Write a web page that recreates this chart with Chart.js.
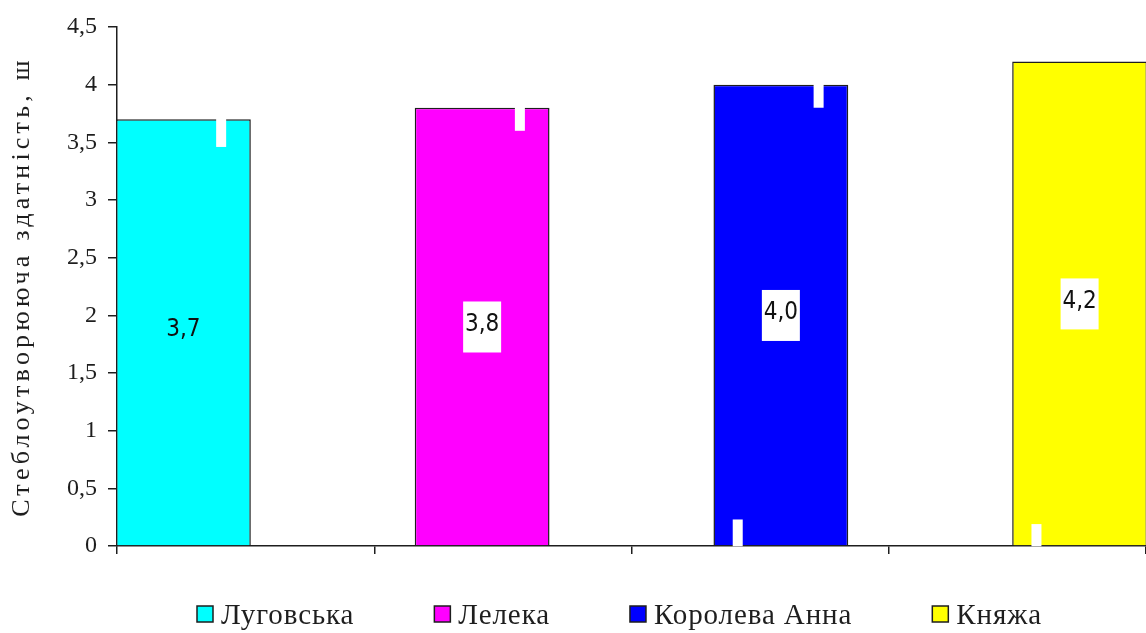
<!DOCTYPE html>
<html>
<head>
<meta charset="utf-8">
<script src="https://cdn.jsdelivr.net/npm/chart.js@4"></script>
<style>
  html, body { margin: 0; padding: 0; background: #fff; }
  #wrap { width: 1146px; height: 633px; position: relative; }
</style>
</head>
<body>
<div id="wrap"><canvas id="chart"></canvas></div>
<script>
const categories = ['Луговська', 'Лелека', 'Королева Анна', 'Княжа'];
const values = [3.7, 3.8, 4.0, 4.2];
const colors = ['#00ffff', '#ff00ff', '#0000ff', '#ffff00'];
const boxedLabel = [false, true, true, true];
// white notches cut into the bars, length in axis units (from top / from base)
const notchTop = [0.24, 0.2, 0.2, null];
const notchBase = [null, null, 0.23, 0.19];
const yTicks = [0, 0.5, 1, 1.5, 2, 2.5, 3, 3.5, 4, 4.5];
const yTitle = 'Стеблоутворююча здатність, ш';

const comma = v => String(v).replace('.', ',');
const serif = '"Liberation Serif", "Times New Roman", serif';
const ink = '#1e1e1e';

const datasets = categories.map((name, i) => ({
    label: name,
    data: values.map((v, j) => (j === i ? v : null)),
    backgroundColor: colors[i],
    borderColor: ink,
    borderWidth: 1.5,
    categoryPercentage: 0.645,
    barPercentage: 3.25
}));

// white notches
const notchPlugin = {
    id: 'notches',
    afterDatasetsDraw(chart) {
        const ctx = chart.ctx;
        const y = chart.scales.y;
        ctx.save();
        ctx.fillStyle = '#fff';
        chart.data.datasets.forEach((ds, i) => {
            const bar = chart.getDatasetMeta(i).data[i];
            if (!bar) return;
            const left = bar.x - bar.width / 2;
            if (notchTop[i] != null) {
                const x = left + bar.width * 0.78;
                const y2 = y.getPixelForValue(values[i] - notchTop[i]);
                ctx.fillRect(x - 5, bar.y - 1, 10, y2 - bar.y + 1);
            }
            if (notchBase[i] != null) {
                const x = left + bar.width * 0.18;
                const y1 = y.getPixelForValue(notchBase[i]);
                ctx.fillRect(x - 5, y1, 10, bar.base - y1 + 1);
            }
        });
        ctx.restore();
    }
};

// value labels in the middle of each bar
const valueLabels = {
    id: 'valueLabels',
    afterDatasetsDraw(chart) {
        const ctx = chart.ctx;
        ctx.save();
        ctx.font = '24px "Liberation Sans Narrow", "DejaVu Sans Condensed", sans-serif';
        ctx.textAlign = 'center';
        ctx.textBaseline = 'middle';
        chart.data.datasets.forEach((ds, i) => {
            const bar = chart.getDatasetMeta(i).data[i];
            if (!bar) return;
            const cy = (bar.y + bar.base) / 2;
            if (boxedLabel[i]) {
                ctx.fillStyle = '#fff';
                ctx.fillRect(bar.x - 19, cy - 25, 38, 51);
            }
            ctx.fillStyle = '#111';
            ctx.fillText(values[i].toFixed(1).replace('.', ','), bar.x, cy - 2);
        });
        ctx.restore();
    }
};

// rotated y title and the bottom legend
const decor = {
    id: 'decor',
    afterDraw(chart) {
        const ctx = chart.ctx;
        const area = chart.chartArea;
        ctx.save();
        ctx.fillStyle = ink;
        ctx.translate(29, (area.top + area.bottom) / 2);
        ctx.rotate(-Math.PI / 2);
        ctx.font = '26px ' + serif;
        ctx.letterSpacing = '4.2px';
        ctx.textAlign = 'center';
        ctx.textBaseline = 'alphabetic';
        ctx.fillText(yTitle, 0, 0);
        ctx.restore();

        ctx.save();
        ctx.font = '29px ' + serif;
        ctx.letterSpacing = '0.9px';
        ctx.textBaseline = 'alphabetic';
        let x = area.left + 80;
        const yMid = 614;
        chart.data.datasets.forEach(ds => {
            ctx.fillStyle = ds.backgroundColor;
            ctx.fillRect(x, yMid - 8, 16, 16);
            ctx.strokeStyle = ink;
            ctx.lineWidth = 1.5;
            ctx.strokeRect(x, yMid - 8, 16, 16);
            ctx.fillStyle = ink;
            ctx.fillText(ds.label, x + 24, yMid + 10);
            x += 24 + ctx.measureText(ds.label).width + 80;
        });
        ctx.restore();
    }
};

new Chart(document.getElementById('chart'), {
    type: 'bar',
    data: { labels: categories, datasets: datasets },
    options: {
        responsive: true,
        maintainAspectRatio: false,
        animation: false,
        devicePixelRatio: 1,
        layout: { padding: { left: 56, top: 27, right: 0, bottom: 79 } },
        plugins: {
            legend: { display: false },
            tooltip: { enabled: false }
        },
        scales: {
            x: {
                type: 'category',
                ticks: { display: false },
                grid: { drawOnChartArea: false, tickLength: 8, color: ink, lineWidth: 1.5 },
                border: { color: ink, width: 1.5 }
            },
            y: {
                min: 0,
                max: 4.5,
                afterBuildTicks: s => { s.ticks = yTicks.map(v => ({ value: v })); },
                ticks: {
                    font: { family: serif, size: 24 },
                    color: ink,
                    padding: 11,
                    callback: v => comma(v)
                },
                grid: { drawOnChartArea: false, tickLength: 9, color: ink, lineWidth: 1.5 },
                border: { color: ink, width: 1.5 }
            }
        }
    },
    plugins: [notchPlugin, valueLabels, decor]
});
</script>
</body>
</html>
